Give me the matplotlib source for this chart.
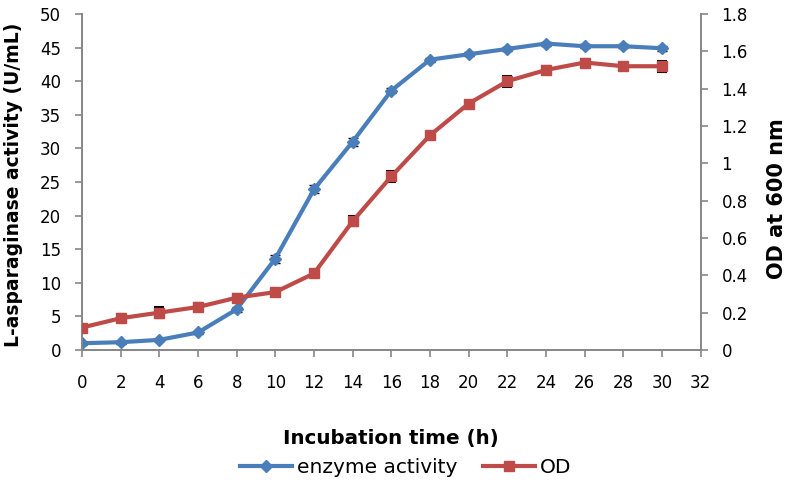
import matplotlib
matplotlib.use("Agg")
import matplotlib.pyplot as plt
from matplotlib.lines import Line2D

time_h = [0, 2, 4, 6, 8, 10, 12, 14, 16, 18, 20, 22, 24, 26, 28, 30]
enzyme = [1.0, 1.15, 1.5, 2.6, 6.05, 13.6, 23.9, 31.0, 38.6, 43.2, 44.0, 44.8, 45.6, 45.2, 45.2, 44.9]
enzyme_err = [0.2, 0.2, 0.2, 0.2, 0.4, 0.6, 0.6, 0.6, 0.4, 0.3, 0.3, 0.3, 0.3, 0.3, 0.3, 0.4]
od = [0.12, 0.17, 0.20, 0.23, 0.28, 0.31, 0.41, 0.69, 0.93, 1.15, 1.32, 1.44, 1.50, 1.54, 1.52, 1.52]
od_err = [0.015, 0.02, 0.03, 0.02, 0.02, 0.015, 0.02, 0.028, 0.03, 0.02, 0.015, 0.03, 0.02, 0.02, 0.02, 0.03]

plt.rcParams['font.family'] = ['DejaVu Sans']
blue = '#4a7ebb'
red = '#be4b48'
grey = '#868686'

fig = plt.figure(figsize=(7.89, 4.82), dpi=100)
ax = fig.add_axes([0.104, 0.274, 0.784, 0.697])
ax2 = ax.twinx()

ax.errorbar(time_h, enzyme, yerr=enzyme_err, color=blue, lw=3, marker='D', ms=6,
            ecolor='black', elinewidth=1, capsize=3.5, zorder=3)
ax2.errorbar(time_h, od, yerr=od_err, color=red, lw=3, marker='s', ms=7,
             ecolor='black', elinewidth=1, capsize=3.5, capthick=1.5, zorder=3)

ax.set_xlim(0, 32)
ax.set_ylim(0, 50)
ax2.set_ylim(0, 1.8)
ax.set_xticks(range(0, 33, 2))
ax.set_yticks(range(0, 51, 5))
ax2.set_yticks([0, 0.2, 0.4, 0.6, 0.8, 1, 1.2, 1.4, 1.6, 1.8])
ax2.set_yticklabels(['0', '0.2', '0.4', '0.6', '0.8', '1', '1.2', '1.4', '1.6', '1.8'])

for a in (ax, ax2):
    a.spines['top'].set_visible(False)
    for s in a.spines.values():
        s.set_color(grey)
        s.set_linewidth(1.2)
    a.tick_params(colors=grey, labelcolor='black', labelsize=12, length=5, width=1.2, pad=10)
ax.tick_params(axis='x', pad=12)

ax.set_xlabel('Incubation time (h)', fontsize=14.3, fontweight='bold', labelpad=27)
ax.set_ylabel('L-asparaginase activity (U/mL)', fontsize=13.5, fontweight='bold')
ax2.set_ylabel('OD at 600 nm', fontsize=15, fontweight='bold')
# left label anchored at its right edge, right label at its left edge
ax.yaxis.set_label_coords(23 / 789, 0.616, transform=fig.transFigure)
ax2.yaxis.set_label_coords(767 / 789, 0.587, transform=fig.transFigure)

handles = [Line2D([], [], color=blue, lw=3, marker='D', ms=6),
           Line2D([], [], color=red, lw=3, marker='s', ms=7)]
fig.legend(handles, ['enzyme activity', 'OD'], loc='center', ncol=2,
           bbox_to_anchor=(0.514, 0.031), frameon=False, fontsize=14.5,
           handlelength=2.6, handletextpad=0.2, columnspacing=1.3, borderpad=0)

fig.savefig('out.png', dpi=100)
